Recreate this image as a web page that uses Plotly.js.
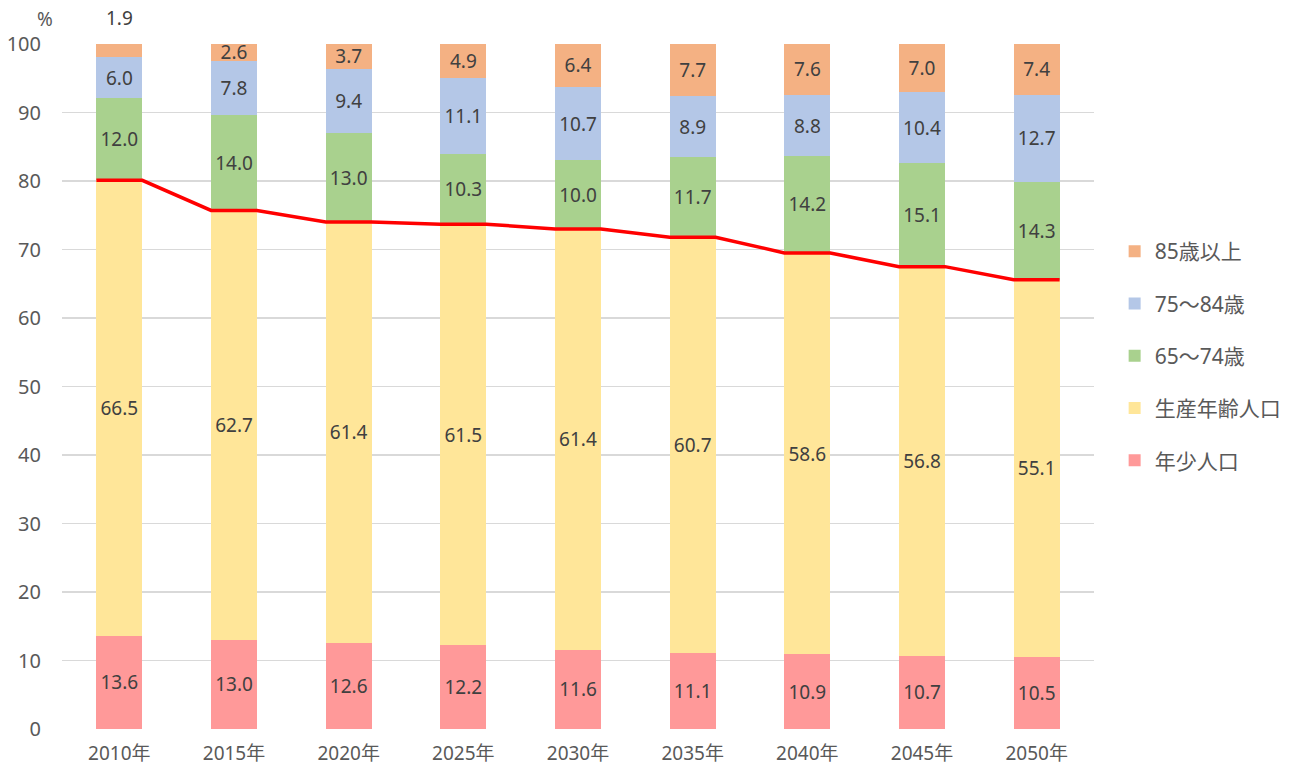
<!DOCTYPE html>
<html><head><meta charset="utf-8">
<script src="https://cdn.plot.ly/plotly-3.0.1.min.js"></script>
<style>body{margin:0;background:#fff}#c{width:1313px;height:769px}</style>
</head><body><div id="c"></div>
<script>
const years = ['2010年','2015年','2020年','2025年','2030年','2035年','2040年','2045年','2050年'];
const youth = [13.6,13.0,12.6,12.2,11.6,11.1,10.9,10.7,10.5];
const working = [66.5,62.7,61.4,61.5,61.4,60.7,58.6,56.8,55.1];
const age65_74 = [12.0,14.0,13.0,10.3,10.0,11.7,14.2,15.1,14.3];
const age75_84 = [6.0,7.8,9.4,11.1,10.7,8.9,8.8,10.4,12.7];
const age85 = [1.9,2.6,3.7,4.9,6.4,7.7,7.6,7.0,7.4];
const names = ['年少人口','生産年齢人口','65～74歳','75～84歳','85歳以上'];
const colors = ['#FF9999','#FFE699','#A9D18E','#B4C7E7','#F4B183'];
const series = [youth, working, age65_74, age75_84, age85];

const xs = years.map((_, i) => i);
const BW = 0.4;
const FONT = '"Noto Sans", "Noto Sans CJK JP", sans-serif';
const TXT = 19;

const traces = series.map((vals, k) => ({
  type: 'bar', x: xs, y: vals, name: names[k], legendgroup: 'g' + k,
  legendrank: 10 - k,
  marker: {color: colors[k], line: {width: 0}}, width: BW,
  text: vals.map((v, i) => (k === 4 && v < 2) ? '' : v.toFixed(1)),
  textposition: 'inside', insidetextanchor: 'middle', constraintext: 'none', textangle: 0,
  textfont: {color: '#404040', size: TXT, family: FONT},
  hoverinfo: 'skip'
}));

// red line along the top of working-age population
const lx = [], ly = [];
xs.forEach((x, i) => {
  const top = youth[i] + working[i];
  lx.push(x - BW / 2, x + BW / 2);
  ly.push(top, top);
});
traces.push({type: 'scatter', mode: 'lines', x: lx, y: ly, showlegend: false,
  line: {color: '#FF0000', width: 3.5}, hoverinfo: 'skip'});

const annotations = [{xref: 'paper', yref: 'paper', x: -0.016, y: 1.0, yshift: 25,
  text: '%', showarrow: false, xanchor: 'center', yanchor: 'middle',
  font: {size: TXT, color: '#595959', family: FONT}}];
xs.forEach((x, i) => {
  if (age85[i] < 2) annotations.push({x: x, y: 100, yshift: 26, text: age85[i].toFixed(1),
    showarrow: false, yanchor: 'middle', font: {size: TXT, color: '#404040', family: FONT}});
});

const layout = {
  width: 1313, height: 769,
  margin: {l: 62, r: 219, t: 44, b: 40},
  paper_bgcolor: '#fff', plot_bgcolor: '#fff',
  barmode: 'stack', bargap: 0.6,
  font: {family: FONT, color: '#595959'},
  xaxis: {range: [-0.5, 8.5], tickvals: xs, ticktext: years, showgrid: false,
    zeroline: false, showline: false, ticks: '', ticklabelstandoff: 11,
    tickfont: {size: TXT, color: '#595959'}},
  yaxis: {range: [0, 100], dtick: 10, showgrid: true, gridcolor: '#D9D9D9', gridwidth: 1.5,
    zeroline: false, showline: false, ticks: '', ticklabelstandoff: 20,
    tickfont: {size: 20, color: '#595959'}},
  legend: {x: 1.02, y: 0.727, xanchor: 'left', yanchor: 'top', traceorder: 'grouped',
    tracegroupgap: 22, font: {size: 21, color: '#595959'}, itemwidth: 30},
  showlegend: true,
  annotations: annotations
};
Plotly.newPlot('c', traces, layout, {displayModeBar: false, staticPlot: true});
</script></body></html>
